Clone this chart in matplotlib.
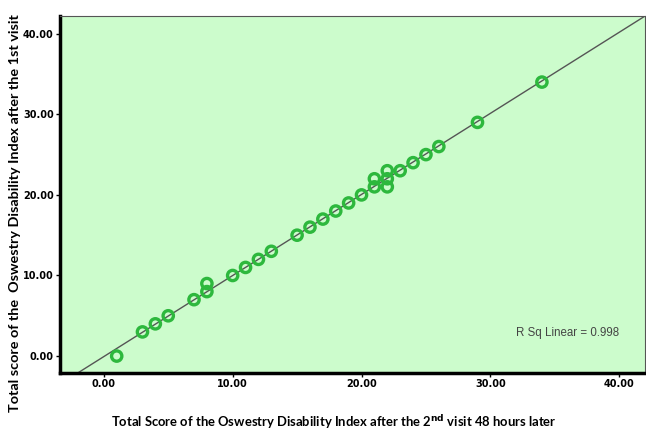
import matplotlib.pyplot as plt
import numpy as np

# ODI scores: 2nd visit (x) vs 1st visit (y)
visit2 = [1, 3, 4, 5, 7, 8, 8, 10, 11, 12, 13, 15, 16, 17, 18, 19, 20,
          21, 21, 22, 22, 22, 23, 24, 25, 26, 29, 34]
visit1 = [0, 3, 4, 5, 7, 8, 9, 10, 11, 12, 13, 15, 16, 17, 18, 19, 20,
          21, 22, 22, 23, 21, 23, 24, 25, 26, 29, 34]
r2_text = "R Sq Linear = 0.998"

x = np.array(visit2, dtype=float)
y = np.array(visit1, dtype=float)

fig = plt.figure(figsize=(6.46, 4.37), dpi=100)
ax = fig.add_axes([60 / 646, 64 / 437, 585 / 646, 357 / 437])
ax.set_facecolor("#ccfccc")

xlim = (-3.4, 42.0)
ax.set_xlim(*xlim)
ax.set_ylim(-2.1, 42.2)

# linear fit line across the whole plot
b, a = np.polyfit(x, y, 1)
xs = np.array(xlim)
ax.plot(xs, a + b * xs, color="#555555", lw=1.0, zorder=2)

ax.scatter(x, y, s=55, facecolors="none", edgecolors="#2db83d",
           linewidths=2.4, zorder=3)

ax.text(0.955, 0.111, r2_text, transform=ax.transAxes, ha="right",
        va="center", fontsize=8.3, color="#444444", family="Liberation Sans")

ticks = [0, 10, 20, 30, 40]
ax.set_xticks(ticks)
ax.set_yticks(ticks)
ax.set_xticklabels(["%.2f" % t for t in ticks])
ax.set_yticklabels(["%.2f" % t for t in ticks])
for lab in ax.get_xticklabels() + ax.get_yticklabels():
    lab.set_fontweight("bold")
    lab.set_fontsize(7)
ax.tick_params(direction="out", length=3, width=1, color="black", pad=1.5)

ax.spines["left"].set_linewidth(2.5)
ax.spines["bottom"].set_linewidth(2.5)
ax.spines["top"].set_color("#555555")
ax.spines["right"].set_color("#555555")

fig.text(334 / 646, 1 - 422 / 437,
         "Total Score of the Oswestry Disability Index after the 2$^{\\mathbf{nd}}$ visit 48 hours later",
         fontsize=9.4, fontweight="bold", family="Lato", ha="center", va="center")
fig.text(15 / 646, 1 - 213 / 437,
         "Total score of the  Oswestry Disability Index after the 1st visit",
         fontsize=10.4, fontweight="bold", family="Lato", rotation=90,
         ha="center", va="center")

fig.savefig("out.png", dpi=100)
